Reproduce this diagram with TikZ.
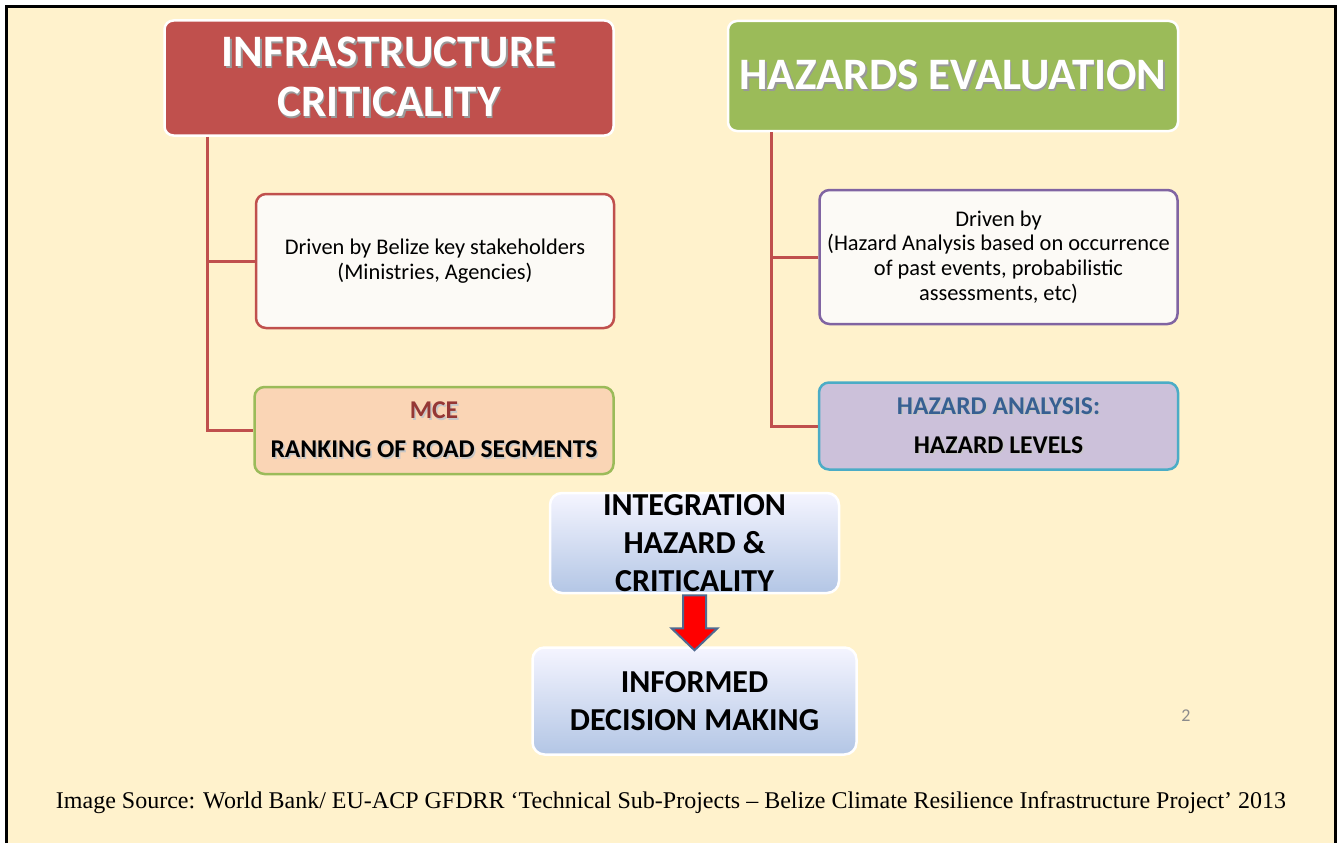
\documentclass[tikz,border=0pt]{standalone}
\usepackage{fontspec}
\setmainfont{Carlito}
\newfontfamily\capfont{Liberation Serif}
\usetikzlibrary{positioning, calc}
\definecolor{slidebg}{HTML}{FFF2CC}
\definecolor{critred}{HTML}{C0504D}
\definecolor{hazgreen}{HTML}{9BBB59}
\definecolor{hazpurple}{HTML}{8064A2}
\definecolor{hazteal}{HTML}{4BACC6}
\definecolor{peach}{HTML}{FAD5B5}
\definecolor{lavender}{HTML}{CCC1DA}
\definecolor{mcered}{HTML}{953735}
\definecolor{levelblue}{HTML}{376092}
\definecolor{boxwhite}{HTML}{FCFAF6}
\definecolor{arrowblue}{HTML}{4F6A91}
\definecolor{stepblue}{HTML}{B3C6E5}
\newcommand{\shadowed}[2][black!40]{\makebox[0pt][l]{\hspace{1.5pt}\raisebox{-1.5pt}{\textcolor{#1}{#2}}}#2}

\begin{document}
\begin{tikzpicture}[x=1pt, y=-1pt,
  titlebox/.style={rectangle, rounded corners=9pt, draw=white, line width=2.5pt, text=white, font=\fontsize{45}{50}\selectfont\bfseries, align=center, inner sep=0pt},
  textbox/.style={rectangle, rounded corners=10pt, line width=2.5pt, fill=boxwhite, align=center, font=\fontsize{22.4}{24.7}\selectfont, inner sep=0pt, minimum width=358pt, minimum height=134pt},
  levelbox/.style={rectangle, rounded corners=10pt, line width=2.5pt, align=center, font=\fontsize{25.6}{39}\selectfont\bfseries, inner sep=0pt, minimum width=359pt, minimum height=87pt},
  stepbox/.style={rectangle, rounded corners=12pt, draw=white, line width=2.5pt, top color=blue!4!white, bottom color=stepblue, align=center, font=\fontsize{32}{38}\selectfont\bfseries, inner xsep=0pt, inner ysep=-2pt},
  branch/.style={draw=critred, line width=3pt},
  downarrow/.style={fill=red, draw=arrowblue, line width=2pt, line join=miter}]
\useasboundingbox (0,0) rectangle (1338,843);
% slide background and frame
\fill[white] (0,0) rectangle (1338,843);
\fill[slidebg] (6.5,7) rectangle (1335,843);
\draw[line width=3pt] (6.5,843) -- (6.5,7) -- (1335,7) -- (1335,843);

\node[titlebox, fill=critred, minimum width=449pt, minimum height=115pt] (title1) at (389,78) {\shadowed{INFRASTRUCTURE}\\\shadowed{CRITICALITY}};
\node[titlebox, fill=hazgreen, minimum width=450pt, minimum height=110pt] (title2) at (953,76) {\shadowed{HAZARDS EVALUATION}};

\node[textbox, draw=critred] (text1) at (435,261) {Driven by Belize key stakeholders\\(Ministries, Agencies)};
\node[textbox, draw=hazpurple] (text2) at (998.5,257) {Driven by\\(Hazard Analysis based on occurrence\\of past events, probabilistic\\assessments, etc)};

\node[levelbox, draw=hazgreen, fill=peach] (level1) at (434,430.5) {\textcolor{mcered}{\shadowed[black!22]{MCE}}\\\shadowed[black!22]{RANKING OF ROAD SEGMENTS}};
\node[levelbox, draw=hazteal, fill=lavender] (level2) at (998.5,426) {\textcolor{levelblue}{\shadowed[black!22]{HAZARD ANALYSIS:}}\\\shadowed[black!22]{HAZARD LEVELS}};

\draw[branch] ([xshift=44pt]title1.south west) |- (text1);
\draw[branch] ([xshift=44pt]title1.south west) |- (level1);
\draw[branch] ([xshift=45pt]title2.south west) |- (text2);
\draw[branch] ([xshift=45pt]title2.south west) |- (level2);

\node[stepbox, minimum width=289pt, minimum height=100pt] (step1) at (694.5,543) {INTEGRATION\\HAZARD \&\\CRITICALITY};
\node[stepbox, minimum width=324pt, minimum height=107pt, below=52pt of step1] (step2) {INFORMED\\DECISION MAKING};

\draw[downarrow] ($(step1.south)+(-11.5,1)$) -- ($(step1.south)+(-11.5,34)$) -- ($(step1.south)+(-23,34)$) -- ($(step1.south)+(0,56)$) -- ($(step1.south)+(23,34)$) -- ($(step1.south)+(11.5,34)$) -- ($(step1.south)+(11.5,1)$) -- cycle;

\node[text=black!45, font=\fontsize{18}{18}\selectfont] (page) at (1186,716) {2};
\node[font=\capfont\fontsize{24}{26}\selectfont] (source) at (671,803) {Image Source: World Bank/ EU-ACP GFDRR ‘Technical Sub-Projects – Belize Climate Resilience Infrastructure Project’ 2013};

\end{tikzpicture}
\end{document}
